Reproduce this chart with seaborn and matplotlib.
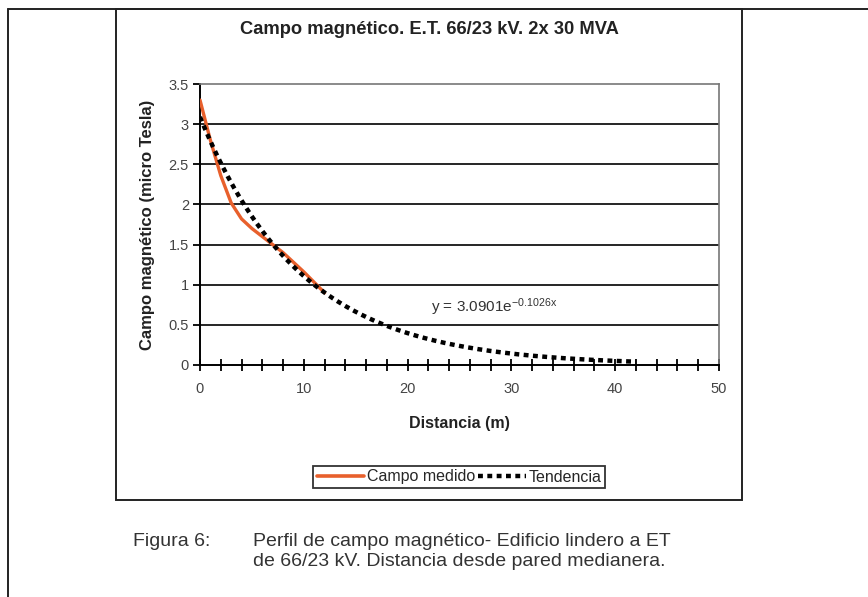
import numpy as np
import pandas as pd
import matplotlib
matplotlib.use("Agg")
import matplotlib.pyplot as plt
from matplotlib import font_manager
from matplotlib.lines import Line2D
from matplotlib.patches import Rectangle
import seaborn as sns

# ---- data ----
distance_m = [0, 1, 2, 3, 4, 5, 6, 7, 8, 9, 10, 11, 12]
field_uT = [3.30, 2.80, 2.36, 2.02, 1.82, 1.70, 1.60, 1.50, 1.40, 1.28, 1.16, 1.03, 0.90]

trend_a = 3.0901
trend_b = -0.1026
trend_x_end = 42

x_ticks = [0, 10, 20, 30, 40, 50]
y_ticks = [0, 0.5, 1, 1.5, 2, 2.5, 3, 3.5]

title = "Campo magnético. E.T. 66/23 kV. 2x 30 MVA"
x_label = "Distancia (m)"
y_label = "Campo magnético (micro Tesla)"
series_names = ["Campo medido", "Tendencia"]
caption_tag = "Figura 6:"
caption_lines = ["Perfil de campo magnético- Edificio lindero a ET",
                 "de 66/23 kV. Distancia desde pared medianera."]

# ---- style ----
sns.set_style("white")
names = {f.name for f in font_manager.fontManager.ttflist}
narrow = "Liberation Sans Narrow" if "Liberation Sans Narrow" in names else "Liberation Sans"
plt.rcParams["font.family"] = [narrow, "DejaVu Sans"]
plt.rcParams["mathtext.fontset"] = "custom"
plt.rcParams["mathtext.rm"] = narrow
plt.rcParams["mathtext.it"] = narrow

ORANGE = "#E8602C"
DASH = (0, (1.1, 1.0))
W, H = 868, 597
fig = plt.figure(figsize=(W / 100, H / 100), dpi=100)
fig.patch.set_facecolor("white")


def fx(px):
    return px / W


def fy(py):
    return 1 - py / H


# page border (left and top) and chart frame
fig.add_artist(Line2D([fx(8), fx(8)], [fy(9), 0], transform=fig.transFigure, color="#222222", lw=1.4))
fig.add_artist(Line2D([fx(8), 1], [fy(9), fy(9)], transform=fig.transFigure, color="#222222", lw=1.4))
fig.add_artist(Rectangle((fx(116), fy(500)), fx(742 - 116), fy(9) - fy(500),
                         transform=fig.transFigure, fill=False, ec="#222222", lw=1.4))

ax = fig.add_axes([fx(200), fy(365), fx(719 - 200), fy(84) - fy(365)])

measured = pd.DataFrame({"x": distance_m, "y": field_uT})
tx = np.linspace(0, trend_x_end, 300)
trend = pd.DataFrame({"x": tx, "y": trend_a * np.exp(trend_b * tx)})

sns.lineplot(data=measured, x="x", y="y", ax=ax, color=ORANGE, lw=2.4,
             label=series_names[0], legend=False, zorder=3)
sns.lineplot(data=trend, x="x", y="y", ax=ax, color="black", lw=3.2,
             label=series_names[1], legend=False, zorder=4,
             dashes=False, linestyle=DASH)

ax.set_xlim(0, 50)
ax.set_ylim(0, 3.5)
ax.set_xticks(x_ticks)
ax.set_xticks(np.arange(0, 51, 2), minor=True)
ax.set_yticks(y_ticks)
ax.set_yticklabels(["0", "0.5", "1", "1.5", "2", "2.5", "3", "3.5"])
ax.tick_params(axis="x", which="both", bottom=True, direction="inout", length=9, width=1.3,
               color="black", labelsize=10.5, labelcolor="#444444", pad=8)
ax.tick_params(axis="y", which="major", left=True, direction="out", length=5, width=1.3,
               color="black", labelsize=10.5, labelcolor="#444444", pad=3)
ax.tick_params(axis="y", which="minor", length=0)

# horizontal gridlines
for v in y_ticks[1:-1]:
    ax.axhline(v, color="black", lw=1.2, zorder=1)

for side in ["left", "bottom"]:
    ax.spines[side].set_color("black")
    ax.spines[side].set_linewidth(1.4)
for side in ["top", "right"]:
    ax.spines[side].set_color("#777777")
    ax.spines[side].set_linewidth(1.2)
    ax.spines[side].set_visible(True)

ax.set_xlabel(x_label, fontsize=11.5, fontweight="bold", color="#222222", labelpad=14)
ax.set_ylabel(y_label, fontsize=12, fontweight="bold", color="#222222", labelpad=10)

ax.text(22.3, 0.72, r"y = 3.0901e$^{\mathregular{-0.1026x}}$", fontsize=11, color="#333333",
        ha="left", va="center")

fig.text(fx(429), fy(30), title, ha="center", va="center", fontsize=13.2,
         fontweight="bold", color="#222222")

handles = [Line2D([], [], color=ORANGE, lw=2.6),
           Line2D([], [], color="black", lw=3.2, linestyle=DASH)]
leg = fig.legend(handles, series_names, loc="center", bbox_to_anchor=(fx(459), fy(477)),
                 ncol=2, fontsize=11.5, frameon=True, fancybox=False, handlelength=3.0,
                 handletextpad=0.15, columnspacing=0.2, borderpad=0.2, borderaxespad=0)
leg.get_frame().set_edgecolor("black")
leg.get_frame().set_linewidth(1.3)

cap_font = dict(fontsize=14, family=["Liberation Sans", "DejaVu Sans"], color="#333333",
                ha="left", va="center")
fig.text(fx(133), fy(541), caption_tag, **cap_font)
fig.text(fx(253), fy(541), caption_lines[0], **cap_font)
fig.text(fx(253), fy(561), caption_lines[1], **cap_font)

fig.savefig("out.png", dpi=100, facecolor="white")
